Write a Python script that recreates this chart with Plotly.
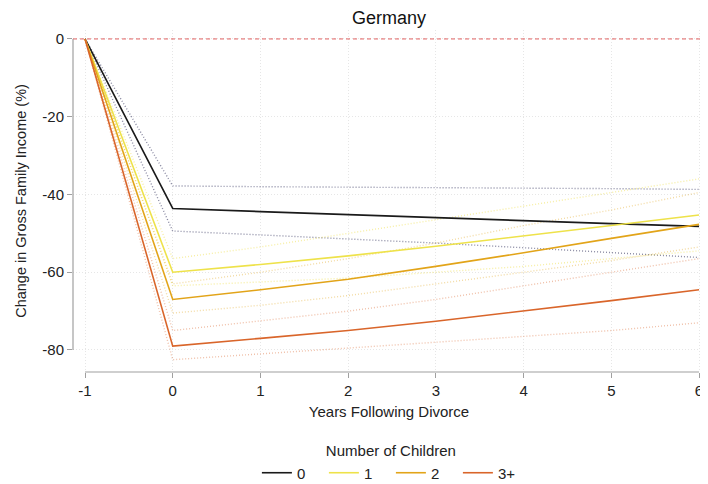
import plotly.graph_objects as go

years = [-1, 0, 1, 2, 3, 4, 5, 6]
groups = ["0", "1", "2", "3+"]

mean_0 = [0, -43.6, -44.4, -45.2, -46.0, -46.8, -47.5, -48.2]
upper_0 = [0, -37.8, -38.0, -38.1, -38.3, -38.4, -38.5, -38.7]
lower_0 = [0, -49.4, -50.4, -51.4, -52.5, -53.7, -54.9, -56.2]

mean_1 = [0, -60.0, -58.0, -55.8, -53.3, -50.7, -48.0, -45.3]
upper_1 = [0, -56.5, -53.5, -50.0, -46.5, -43.0, -39.5, -36.0]
lower_1 = [0, -63.5, -62.5, -61.5, -60.0, -58.5, -56.5, -54.5]

mean_2 = [0, -67.0, -64.5, -61.8, -58.5, -55.0, -51.3, -47.7]
upper_2 = [0, -63.0, -60.0, -56.5, -52.5, -48.0, -44.0, -39.5]
lower_2 = [0, -70.5, -68.5, -66.0, -63.0, -60.0, -57.0, -53.5]

mean_3 = [0, -79.0, -77.0, -75.0, -72.6, -70.0, -67.3, -64.5]
upper_3 = [0, -75.0, -72.5, -70.0, -67.0, -63.5, -60.0, -56.5]
lower_3 = [0, -82.5, -81.0, -79.5, -78.0, -76.5, -75.0, -73.0]

x_ticks = [-1, 0, 1, 2, 3, 4, 5, 6]
y_ticks = [0, -20, -40, -60, -80]

colors = ["#1a1a1a", "#eee24a", "#e2a419", "#d9652a"]
ci_colors = ["rgba(110,110,140,0.8)", "rgba(240,225,90,0.55)",
             "rgba(226,164,25,0.4)", "rgba(217,101,42,0.4)"]

means = [mean_0, mean_1, mean_2, mean_3]
uppers = [upper_0, upper_1, upper_2, upper_3]
lowers = [lower_0, lower_1, lower_2, lower_3]

fig = go.Figure()

# confidence bounds (dotted)
for i in range(4):
    for arr in (uppers[i], lowers[i]):
        fig.add_trace(go.Scatter(x=years, y=arr, mode="lines",
                                 line=dict(color=ci_colors[i], width=1.4, dash="1px,2px"),
                                 showlegend=False, hoverinfo="skip"))

# means
for i in range(4):
    fig.add_trace(go.Scatter(x=years, y=means[i], mode="lines", name=groups[i],
                             line=dict(color=colors[i], width=1.6)))

# zero reference line
fig.add_shape(type="line", xref="paper", x0=0, x1=1, yref="y", y0=0, y1=0,
              line=dict(color="#e06060", width=1, dash="4px,3px"), layer="above")
# offset axis lines (Stata style)
fig.add_shape(type="line", xref="paper", x0=0, x1=0, yref="y", y0=y_ticks[-1], y1=y_ticks[0],
              line=dict(color="#a0a0a0", width=1.2))
fig.add_shape(type="line", xref="x", x0=x_ticks[0], x1=x_ticks[-1], yref="paper", y0=0, y1=0,
              line=dict(color="#a0a0a0", width=1.2))

font_family = "Liberation Sans, Arial, sans-serif"
H = 476

fig.update_layout(
    width=708, height=H,
    margin=dict(l=65, r=11, t=22, b=112, autoexpand=False),
    paper_bgcolor="white", plot_bgcolor="white",
    font=dict(family=font_family, size=15, color="#222222"),
    title=dict(text="Germany", x=(65 + 632 / 2) / 708, xanchor="center", y=1 - 10 / H,
               yanchor="middle", font=dict(size=18, color="#111111")),
    xaxis=dict(range=[-1.137, 6.068], tickvals=x_ticks, ticktext=[str(v) for v in x_ticks],
               showgrid=True, gridcolor="#e6e6e6", griddash="1px,2px", gridwidth=1,
               zeroline=False, showline=False, ticks="outside", ticklen=5,
               tickcolor="#a0a0a0", tickfont=dict(size=15), automargin=False,
               title=dict(text="Years Following Divorce", font=dict(size=15), standoff=8)),
    yaxis=dict(range=[-85.66, 2.3], tickvals=y_ticks, ticktext=[str(v) for v in y_ticks],
               showgrid=True, gridcolor="#e6e6e6", griddash="1px,2px", gridwidth=1,
               zeroline=False, showline=False, ticks="outside", ticklen=5,
               tickcolor="#a0a0a0", tickfont=dict(size=15), automargin=False,
               title=dict(text="Change in Gross Family Income (%)", font=dict(size=14.5), standoff=12)),
    legend=dict(orientation="h", x=0.503, xanchor="center", y=-0.19, yanchor="top",
                title=dict(text="Number of Children", side="top center", font=dict(size=15)),
                font=dict(size=15), entrywidth=22, entrywidthmode="pixels",
                bgcolor="rgba(0,0,0,0)"),
)

fig.write_html("out.html")
